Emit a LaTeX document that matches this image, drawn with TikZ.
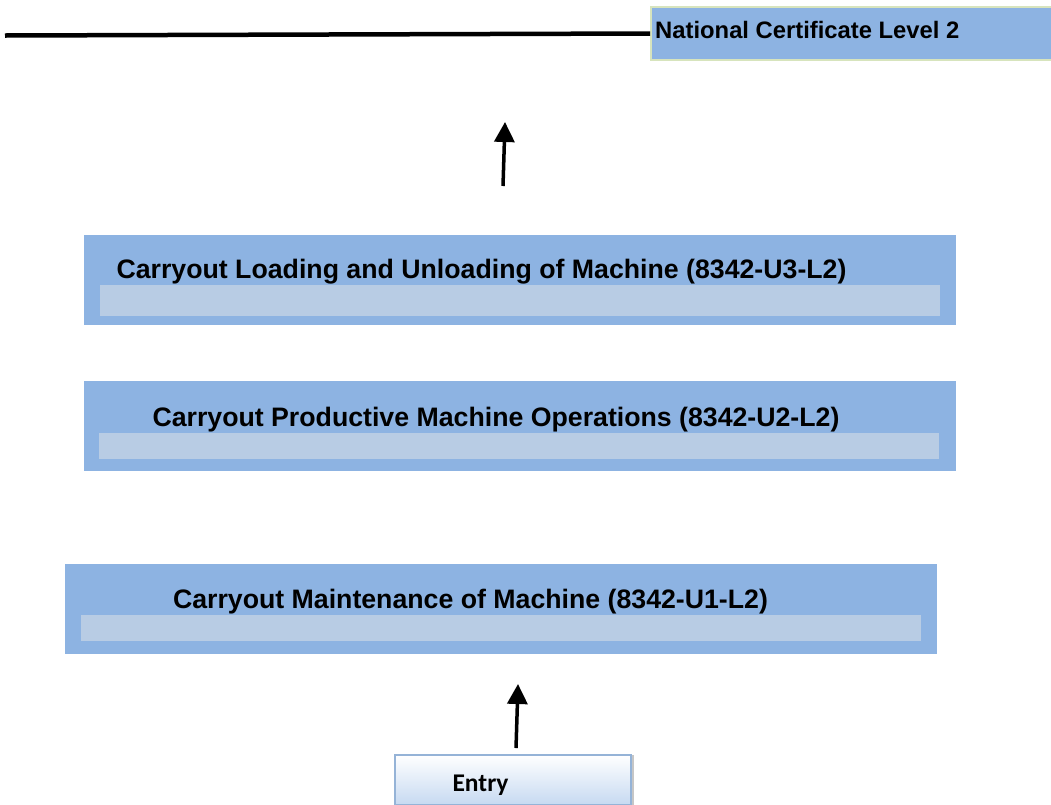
\documentclass[tikz,border=0pt]{standalone}
\usepackage{fontspec}
\setmainfont{Liberation Sans}
\newfontfamily\entryfont{Carlito}
\usetikzlibrary{arrows.meta,shadows}
\definecolor{unitblue}{RGB}{141,179,226}
\definecolor{striplight}{RGB}{184,204,228}
\definecolor{certedge}{RGB}{215,228,189}
\definecolor{entryedge}{RGB}{149,179,215}
\definecolor{entrylow}{RGB}{198,217,241}
\begin{document}
\begin{tikzpicture}[x=1pt,y=-1pt,
  unit box/.style={rectangle,fill=unitblue,draw=none,minimum width=872pt,minimum height=90pt},
  strip/.style={fill=striplight},
  unit text/.style={font=\fontsize{26.7}{30}\bfseries\selectfont,inner sep=0pt},
  cert text/.style={font=\fontsize{23.8}{28}\bfseries\selectfont,inner sep=0pt},
  cert box/.style={rectangle,fill=unitblue,draw=certedge,line width=2pt,minimum width=404pt,minimum height=53pt},
  entry box/.style={rectangle,top color=white,bottom color=entrylow,draw=entryedge,line width=1.5pt,
    minimum width=236pt,minimum height=50pt,drop shadow={shadow xshift=3pt,shadow yshift=0pt,opacity=0.45}},
  up arrow/.style={line width=3.5pt,-{Triangle[width=20pt,length=20pt]}}]
  \useasboundingbox (0,0) rectangle (1051,804);

  \node[cert box] at (853,33.5) (nc) {};
  \node[cert text,anchor=west] at (655,30) (nct) {National Certificate Level 2};
  \coordinate (lineend) at (5,35.5);
  \draw[line width=4.5pt] (lineend) -- (nc.west);

  \coordinate (a1s) at (503,186);
  \coordinate (a1e) at (505,122);
  \draw[up arrow] (a1s) -- (a1e);

  \node[unit box] at (520,280) (u3) {};
  \fill[strip] (100,285) rectangle (940,316);
  \node[unit text] at (481.5,272) (u3t) {Carryout Loading and Unloading of Machine (8342-U3-L2)};

  \node[unit box] at (520,425.5) (u2) {};
  \fill[strip] (99,433) rectangle (939,459);
  \node[unit text] at (496,420) (u2t) {Carryout Productive Machine Operations (8342-U2-L2)};

  \node[unit box] at (501,608.5) (u1) {};
  \fill[strip] (81,615) rectangle (921,641);
  \node[unit text] at (470.5,602) (u1t) {Carryout Maintenance of Machine (8342-U1-L2)};

  \coordinate (a2s) at (516,748);
  \coordinate (a2e) at (518,684);
  \draw[up arrow] (a2s) -- (a2e);

  \node[entry box] at (513,780) (entry) {};
  \node[font=\entryfont\fontsize{25.5}{28}\bfseries\selectfont,inner sep=0pt] at (480.5,785) (entryt) {Entry};
\end{tikzpicture}
\end{document}
